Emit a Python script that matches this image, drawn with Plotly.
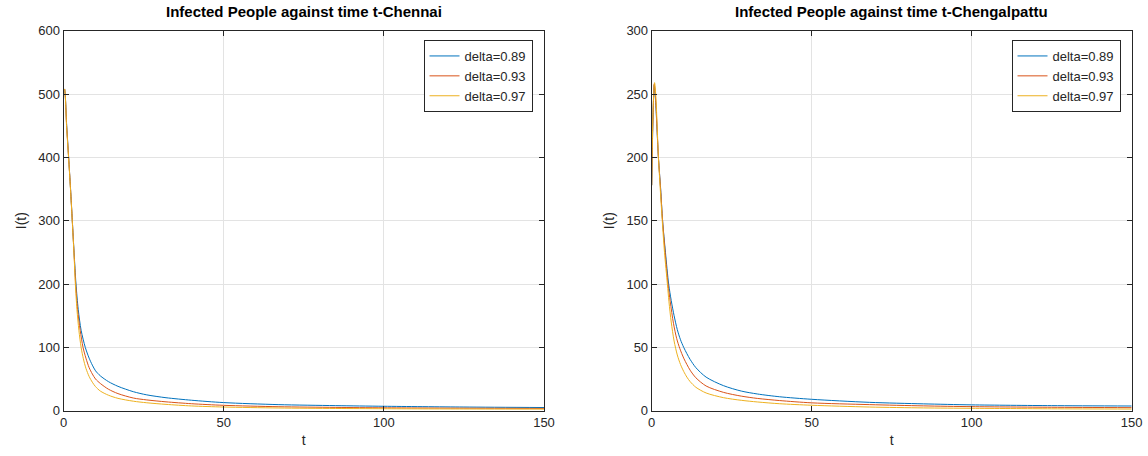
import plotly.graph_objects as go

# ---------------- data ----------------
series_names = ["delta=0.89", "delta=0.93", "delta=0.97"]
colors = ["#0072BD", "#D95319", "#EDB120"]

# Chennai
chen_t_089 = [0, 0.3, 1, 1.6, 2.2, 2.75, 3.3, 3.9, 4.6, 5.5, 6.8, 8, 9, 10, 11.5, 14, 17, 21.8, 26, 32, 40, 50, 67, 85, 100, 125, 150]
chen_I_089 = [505, 508, 450, 400, 350, 300, 250, 200, 160, 127, 100, 83, 72, 63, 55, 46, 38.5, 30, 25, 20.5, 16.5, 12.8, 9.6, 8, 7, 5.8, 5]
chen_t_093 = [0, 0.3, 1, 1.6, 2.2, 2.75, 3.3, 3.8, 4.4, 5.2, 6.1, 7, 8, 9, 10, 11.5, 14, 17, 21.8, 26, 32, 40, 50, 67, 85, 100, 125, 150]
chen_I_093 = [505, 508, 448, 400, 350, 300, 248, 200, 160, 127, 100, 83, 68, 58, 50, 43, 34, 27, 20, 17, 14, 11, 8.5, 6.3, 5.2, 4.6, 4, 3.6]
chen_t_097 = [0, 0.3, 1, 1.6, 2.2, 2.75, 3.3, 3.7, 4.2, 4.8, 5.5, 6.2, 7, 8, 9, 10, 11.5, 14, 17, 21.8, 26, 32, 40, 50, 67, 85, 100, 125, 150]
chen_I_097 = [505, 508, 445, 398, 348, 298, 245, 200, 160, 127, 100, 82, 67, 54, 45, 38, 31, 24.5, 19.5, 15, 12.5, 10, 7.5, 5.8, 4.3, 3.5, 3.1, 2.7, 2.5]

# Chengalpattu
chg_t_089 = [0, 0.4, 0.8, 1.2, 2.1, 2.8, 3.4, 4.3, 5.3, 6.1, 7, 8, 9, 10, 11, 12, 13.8, 17, 22.4, 28, 33, 40, 50, 68, 85, 100, 125, 150]
chg_I_089 = [178, 230, 257, 245, 200, 175, 150, 125, 100, 87, 75, 64, 56, 50, 45, 40.5, 34, 26.5, 19.8, 15.5, 13.2, 11, 9, 6.6, 5.4, 4.6, 4, 3.7]
chg_t_093 = [0, 0.4, 0.8, 1.2, 2.1, 2.8, 3.4, 4.2, 5.1, 5.8, 6.8, 7.8, 8.8, 10, 11, 12, 13.8, 17, 22.4, 28, 33, 40, 50, 68, 85, 100, 125, 150]
chg_I_093 = [178, 232, 258, 247, 200, 174, 150, 125, 100, 86, 69, 57, 49, 41.5, 36.5, 32, 26, 19.5, 14.5, 11.5, 9.7, 8, 6.2, 4.8, 3.8, 3.2, 2.7, 2.4]
chg_t_097 = [0, 0.4, 0.9, 1.3, 2.1, 2.7, 3.3, 4.0, 4.9, 5.4, 6.1, 7, 8, 9, 10, 11, 12, 13.8, 17, 22.4, 28, 33, 40, 50, 68, 85, 100, 125, 150]
chg_I_097 = [178, 235, 259, 248, 200, 174, 150, 125, 100, 86, 70, 55, 44, 36.5, 31, 26.5, 23, 18.5, 14, 10.3, 8.2, 6.9, 5.5, 4.3, 2.9, 2.2, 1.9, 1.5, 1.3]

left_x_ticks = [0, 50, 100, 150]
left_y_ticks = [0, 100, 200, 300, 400, 500, 600]
right_y_ticks = [0, 50, 100, 150, 200, 250, 300]

# ---------------- figure ----------------
fig = go.Figure()

chen = [(chen_t_089, chen_I_089), (chen_t_093, chen_I_093), (chen_t_097, chen_I_097)]
chg = [(chg_t_089, chg_I_089), (chg_t_093, chg_I_093), (chg_t_097, chg_I_097)]

for (t, v), name, c in zip(chen, series_names, colors):
    fig.add_trace(go.Scatter(x=t, y=v, mode="lines", name=name,
                             line=dict(color=c, width=1, shape="spline", smoothing=0.8),
                             xaxis="x", yaxis="y", legend="legend"))
for (t, v), name, c in zip(chg, series_names, colors):
    fig.add_trace(go.Scatter(x=t, y=v, mode="lines", name=name,
                             line=dict(color=c, width=1, shape="spline", smoothing=0.8),
                             xaxis="x2", yaxis="y2", legend="legend2"))

W, H = 1148, 456
ax_col = "#262626"
grid_col = "#e3e3e3"
font_fam = "Liberation Sans, Arial, Helvetica, sans-serif"

def px_x(p):
    return p / W

def px_y(p):
    return 1 - p / H

def xaxis(domain, anchor):
    return dict(domain=domain, anchor=anchor, range=[0, 150], tickvals=left_x_ticks,
                showline=True, linecolor=ax_col, linewidth=1, mirror="ticks",
                ticks="inside", ticklen=5, tickcolor=ax_col, automargin=False,
                showgrid=True, gridcolor=grid_col, gridwidth=1, zeroline=False,
                tickfont=dict(size=13, color=ax_col, family=font_fam),
                title=dict(text="t", font=dict(size=14, color=ax_col, family=font_fam), standoff=5))

def yaxis(domain, anchor, rng, ticks):
    return dict(domain=domain, anchor=anchor, range=rng, tickvals=ticks,
                showline=True, linecolor=ax_col, linewidth=1, mirror="ticks",
                ticks="inside", ticklen=5, tickcolor=ax_col, automargin=False,
                showgrid=True, gridcolor=grid_col, gridwidth=1, zeroline=False,
                tickfont=dict(size=13, color=ax_col, family=font_fam),
                title=dict(text="I(t)", font=dict(size=14, color=ax_col, family=font_fam), standoff=8))

yd = [px_y(410.7), px_y(30.7)]
xd1 = [px_x(63.5), px_x(544)]
xd2 = [px_x(651.7), px_x(1131.7)]

legend_common = dict(bgcolor="white", bordercolor=ax_col, borderwidth=1,
                     font=dict(size=13, color=ax_col, family=font_fam),
                     xanchor="right", yanchor="top", tracegroupgap=0, itemwidth=30)

fig.update_layout(
    width=W, height=H,
    margin=dict(l=0, r=0, t=0, b=0, autoexpand=False),
    paper_bgcolor="white", plot_bgcolor="white",
    font=dict(family=font_fam, color=ax_col),
    xaxis=xaxis(xd1, "y"),
    yaxis=yaxis(yd, "x", [0, 600], left_y_ticks),
    xaxis2=xaxis(xd2, "y2"),
    yaxis2=yaxis(yd, "x2", [0, 300], right_y_ticks),
    legend=dict(x=px_x(532.5), y=px_y(40), **legend_common),
    legend2=dict(x=px_x(1120.5), y=px_y(40), **legend_common),
    annotations=[
        dict(text="<b>Infected People against time t-Chennai</b>", x=(xd1[0] + xd1[1]) / 2, y=px_y(12),
             xref="paper", yref="paper", showarrow=False, xanchor="center", yanchor="middle",
             font=dict(size=15, color="black", family=font_fam)),
        dict(text="<b>Infected People against time t-Chengalpattu</b>", x=(xd2[0] + xd2[1]) / 2, y=px_y(12),
             xref="paper", yref="paper", showarrow=False, xanchor="center", yanchor="middle",
             font=dict(size=15, color="black", family=font_fam)),
    ],
)

fig.write_html("out.html", config={"displayModeBar": False},
               post_script="document.body.style.margin='0';document.body.style.overflow='hidden';")
